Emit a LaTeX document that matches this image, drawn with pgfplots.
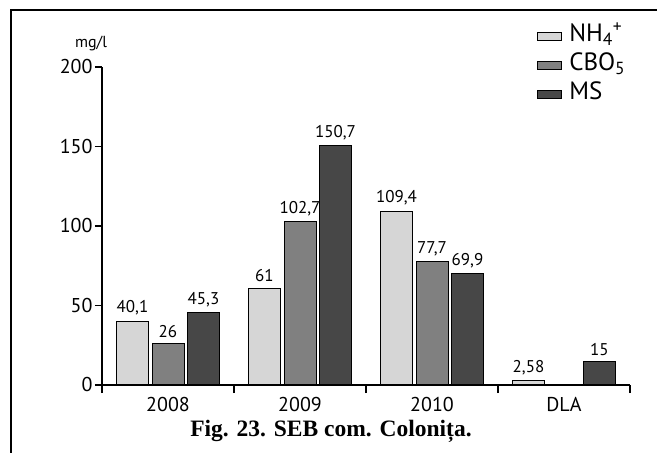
\documentclass[border=0pt]{standalone}
\usepackage{pgfplots}
\pgfplotsset{compat=1.18}
\usepackage{fontspec}
\setmainfont{PT Sans}
\newfontfamily\capfont{Liberation Serif}
\definecolor{cA}{HTML}{D6D6D6}
\definecolor{cB}{HTML}{808080}
\definecolor{cC}{HTML}{474747}
\begin{document}
\begin{tikzpicture}[x=1pt,y=1pt]
\useasboundingbox (0,0) rectangle (657,453);
\draw[line width=1.4pt] (11,0) -- (11,443) -- (657,443);
\node[font=\fontsize{16}{16}\selectfont] at (91,409) {mg/l};
\node[font=\capfont\bfseries\fontsize{23.5}{24}\selectfont] at (331,22) {Fig. 23. SEB com. Colonița.};
\begin{axis}[
  at={(102pt,68pt)}, anchor=south west,
  scale only axis, width=528pt, height=318pt,
  xmin=-0.5, xmax=3.5, ymin=0, ymax=200,
  axis x line*=bottom, axis y line*=left,
  axis line style={line width=1.2pt},
  ybar=3.5pt, bar width=32pt,
  ytick={0,50,100,150,200},
  xtick={0,1,2,3}, xticklabels={2008,2009,2010,DLA},
  major x tick style={draw=none},
  minor xtick={-0.5,0.5,1.5,2.5,3.5},
  minor tick length=8pt, major tick length=7pt,
  tick align=outside,
  tick style={line width=1.1pt, black},
  /pgf/number format/assume math mode=true,
  /pgf/number format/use comma,
  /pgf/number format/1000 sep={},
  yticklabel style={font=\fontsize{20}{20}\selectfont, xshift=1pt},
  xticklabel style={font=\fontsize{20}{20}\selectfont, yshift=-2pt},
  nodes near coords,
  every node near coord/.append style={font=\fontsize{17}{17}\selectfont, yshift=2pt},
  legend style={draw=none, fill=none, at={(rel axis cs:0.824,1.14)}, anchor=north west,
    font=\fontsize{25}{25}\selectfont, inner sep=0pt, row sep=3pt, column sep=6pt,
    nodes={inner sep=1pt, text height=18pt, text depth=6pt}},
  legend cell align=left,
  legend image code/.code={\draw[#1,line width=1pt] (0pt,-5pt) rectangle (24pt,3pt);},
]
\addplot[fill=cA, draw=black, line width=1pt] coordinates {(0,40.1) (1,61) (2,109.4) (3,2.58)};
\addplot[fill=cB, draw=black, line width=1pt] coordinates {(0,26) (1,102.7) (2,77.7)};
\addplot[fill=cC, draw=black, line width=1pt] coordinates {(0,45.3) (1,150.7) (2,69.9) (3,15)};
\legend{NH\textsubscript{4}\textsuperscript{+}, CBO\textsubscript{5}, MS}
\end{axis}
\end{tikzpicture}
\end{document}
